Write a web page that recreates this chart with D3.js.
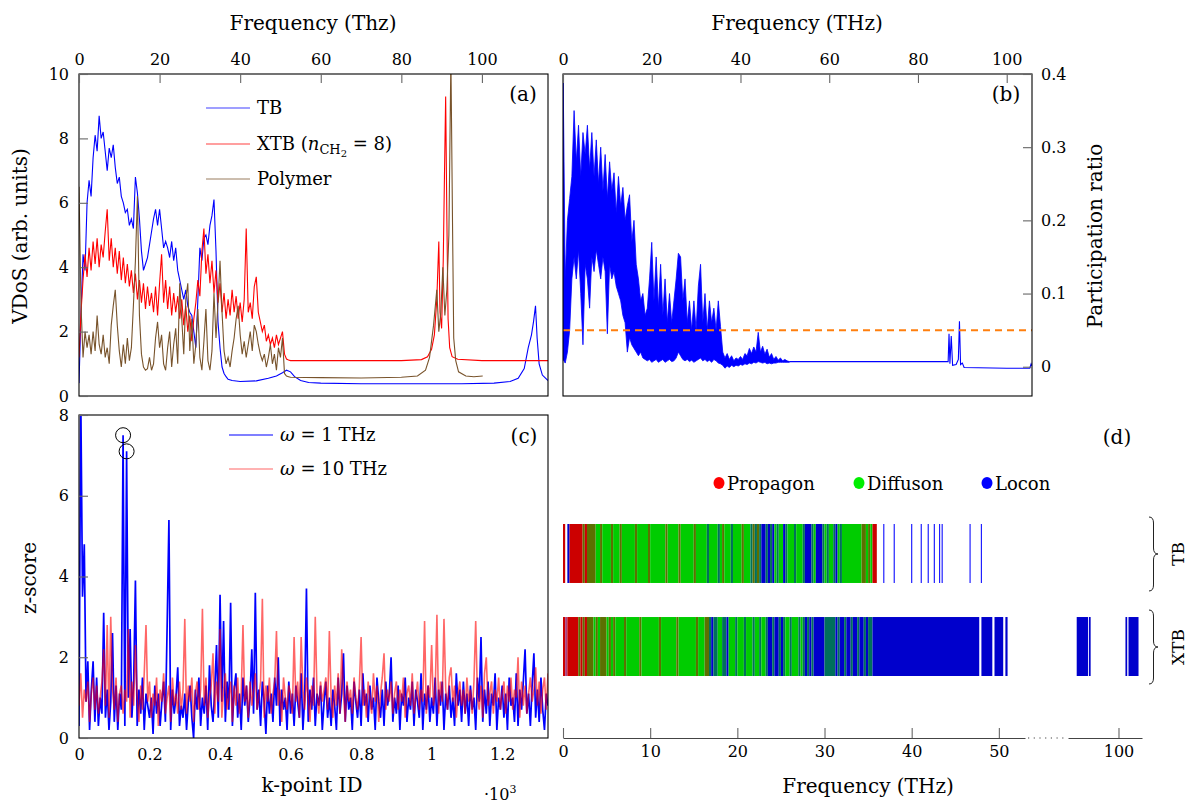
<!DOCTYPE html>
<html>
<head>
<meta charset="utf-8">
<script src="https://cdn.jsdelivr.net/npm/d3@7"></script>
<style>
  body { margin: 0; background: #fff; }
  svg text { font-family: 'DejaVu Serif', serif; fill: #000; }
</style>
</head>
<body>
<svg id="fig" width="1190" height="804"></svg>
<script>
// ---------------- data ----------------
// (a) VDoS, dense part sampled every 0.5 THz from 0, tail as [THz, value]
const vdosStep = 0.5;
const vdosTB = [
  0.4, 2.6, 4.4, 3.9, 6.0, 6.7, 6.2, 7.4, 8.1, 7.6,
  8.7, 8.0, 8.2, 7.6, 7.0, 7.7, 7.4, 7.8, 7.1, 6.6,
  6.8, 6.2, 6.0, 5.7, 5.8, 5.3, 5.5, 5.2, 6.8, 6.3,
  5.5, 4.5, 3.9, 4.1, 4.3, 4.7, 5.1, 5.5, 5.8, 5.3,
  5.8, 5.2, 4.6, 4.8, 4.6, 4.3, 4.8, 4.2, 4.6, 3.9,
  3.6, 3.3, 3.0, 3.3, 2.8, 2.6, 2.5, 2.0, 1.5, 3.0,
  4.6, 4.2, 4.9, 5.0, 4.7, 5.3, 5.6, 6.1, 4.5, 2.3,
  1.5, 0.9, 0.7
];
const vdosTBTail = [[36.5, 0.6], [37, 0.52], [38, 0.48], [40, 0.45], [44, 0.47], [47, 0.55], [49, 0.62],
  [50.5, 0.72], [51.5, 0.8], [52.5, 0.75], [53.5, 0.6], [55, 0.48], [57, 0.42], [60, 0.4], [70, 0.38],
  [85, 0.38], [95, 0.38], [103, 0.4], [107, 0.45], [109, 0.55], [110.5, 0.85], [111.5, 1.5], [112.3, 1.9],
  [112.8, 2.3], [113.3, 2.8], [113.7, 1.8], [114.2, 1.0], [115, 0.65], [116.4, 0.48]];

const vdosXTB = [
  1.2, 2.6, 3.6, 4.4, 3.7, 4.6, 3.9, 4.8, 4.1, 4.9,
  4.0, 4.7, 4.3, 5.1, 5.8, 4.2, 4.9, 4.0, 4.6, 3.8,
  4.5, 3.6, 4.3, 3.5, 4.1, 3.4, 3.9, 3.2, 3.8, 3.0,
  3.6, 2.9, 3.5, 2.7, 3.4, 2.8, 3.2, 2.6, 3.4, 2.5,
  3.5, 4.4, 2.9, 3.6, 2.7, 3.4, 2.5, 3.2, 2.6, 3.1,
  2.4, 3.0, 2.2, 2.8, 2.0, 2.5, 1.7, 2.4, 2.9, 3.6,
  3.1, 4.5, 5.2, 3.8, 4.4, 3.5, 4.2, 3.2, 3.9, 2.9,
  3.5, 2.6, 3.2, 2.4, 3.0, 2.5, 3.3, 2.6, 3.1, 2.4,
  2.9, 2.3, 3.0, 5.2, 2.6, 2.9, 2.4, 3.4, 3.7, 2.6,
  2.3, 2.0, 2.2, 1.7, 1.9, 1.6, 1.8, 1.5, 1.9, 1.6,
  1.8, 2.0, 1.3, 1.15, 1.12
];
const vdosXTBTail = [[52.5, 1.1], [60, 1.1], [80, 1.1], [85, 1.13], [86.5, 1.22], [87.5, 1.45], [88.2, 1.9],
  [88.8, 3.0], [89.3, 4.8], [89.6, 2.6], [90.0, 2.1], [90.4, 4.2], [90.7, 6.8], [91.0, 9.3], [91.3, 5.5],
  [91.6, 2.4], [92.0, 1.5], [92.6, 1.22], [94, 1.14], [100, 1.1], [116.4, 1.1]];

const vdosPoly = [
  6.5, 2.8, 1.2, 2.0, 1.5, 1.9, 1.3, 2.0, 1.4, 2.5,
  1.6, 1.3, 1.9, 1.2, 1.5, 1.0, 2.2, 2.8, 3.3, 2.2,
  1.4, 0.9, 1.6, 1.0, 1.8, 1.1, 1.5, 2.8, 4.2, 6.2,
  2.5, 1.3, 0.9, 0.8, 0.85, 1.2, 0.8, 1.0, 1.8, 2.3,
  1.5, 1.9, 1.0, 0.8, 1.5, 2.0, 0.9, 1.6, 2.1, 1.0,
  3.5, 2.4, 1.3, 3.0, 3.5, 1.4, 2.4, 1.0, 1.6, 2.7,
  1.2, 0.8, 1.7, 2.7, 1.1, 0.8, 1.4, 3.2, 1.8, 2.9,
  4.2, 2.6, 1.4, 1.0, 1.2, 0.9, 1.4, 1.8, 2.4, 2.8,
  1.9, 1.3, 1.7, 1.2, 1.6, 2.0, 1.4, 2.2, 2.0, 1.6,
  1.3, 1.1, 1.3, 0.9, 1.2, 1.6, 1.0, 1.3, 0.8, 1.5,
  1.2, 1.8, 0.7, 0.62, 0.6
];
const vdosPolyTail = [[52.5, 0.58], [60, 0.57], [70, 0.56], [80, 0.58], [84, 0.62], [86, 0.8], [87, 1.2],
  [88, 2.2], [88.8, 3.3], [89.3, 2.0], [89.8, 2.6], [90.3, 4.0], [90.8, 2.5], [91.3, 3.3], [91.8, 5.0],
  [92.3, 10.5], [92.7, 5.4], [93.0, 1.8], [93.5, 1.1], [94.2, 0.75], [96, 0.62], [98, 0.6], [100.2, 0.62]];

// (b) participation ratio: upper / lower envelope every 0.5 THz up to 51 THz, then a thin tail
const prStep = 0.5;
const prHigh = [
  0.42, 0.12, 0.20, 0.23, 0.26, 0.35, 0.28, 0.33, 0.26, 0.32,
  0.29, 0.33, 0.27, 0.32, 0.26, 0.31, 0.25, 0.30, 0.24, 0.29,
  0.23, 0.28, 0.24, 0.265, 0.21, 0.26, 0.22, 0.245, 0.20, 0.22,
  0.235, 0.17, 0.20, 0.14, 0.12, 0.09, 0.10, 0.07, 0.08, 0.12,
  0.17, 0.09, 0.15, 0.08, 0.14, 0.07, 0.12, 0.06, 0.10, 0.06,
  0.09, 0.12, 0.155, 0.15, 0.09, 0.12, 0.06, 0.09, 0.05, 0.09,
  0.05, 0.11, 0.14, 0.06, 0.10, 0.05, 0.09, 0.06, 0.08, 0.05,
  0.09, 0.055, 0.02, 0.012, 0.018, 0.01, 0.015, 0.008, 0.012, 0.01,
  0.014, 0.01, 0.018, 0.015, 0.025, 0.018, 0.027, 0.02, 0.047, 0.02,
  0.028, 0.017, 0.024, 0.013, 0.018, 0.01, 0.014, 0.009, 0.012, 0.008,
  0.01, 0.008, 0.007
];
const prLow = [
  0.01, 0.005, 0.02, 0.05, 0.12, 0.15, 0.12, 0.16, 0.10, 0.03,
  0.14, 0.12, 0.08, 0.15, 0.13, 0.16, 0.14, 0.12, 0.15, 0.13,
  0.045, 0.14, 0.12, 0.13, 0.11, 0.10, 0.09, 0.07, 0.06, 0.02,
  0.04, 0.03, 0.025, 0.02, 0.015, 0.02, 0.012, 0.01, 0.008, 0.01,
  0.006, 0.008, 0.01, 0.006, 0.008, 0.01, 0.006, 0.008, 0.01, 0.007,
  0.008, 0.012, 0.02, 0.015, 0.01, 0.008, 0.01, 0.007, 0.009, 0.006,
  0.008, 0.01, 0.012, 0.008, 0.01, 0.007, 0.009, 0.006, 0.01, 0.008,
  0.005, 0.004, 0.002, -0.002, 0.001, -0.001, 0.002, 0.0, 0.002, 0.001,
  0.003, 0.002, 0.004, 0.003, 0.005, 0.004, 0.006, 0.005, 0.007, 0.006,
  0.005, 0.006, 0.004, 0.005, 0.004, 0.005, 0.005, 0.006, 0.006, 0.006,
  0.006, 0.006, 0.006
];
const prTail = [[51, 0.007], [86.8, 0.007], [87.0, 0.045], [87.2, 0.004], [87.5, 0.042], [87.8, 0.002],
  [88.6, 0.003], [89.1, 0.01], [89.35, 0.062], [89.6, 0.003], [90.0, 0.005], [90.4, -0.001], [100, -0.002],
  [105.2, -0.002], [105.5, 0.004], [105.7, 0.001]];
const prThreshold = 0.05;

// (c) z-score per k-point, every 5 k-points from 0 to 1330
const kStep = 5;
const zOmega1 = [
  0.3, 8.5, 3.5, 4.8, 0.9, 1.9, 0.2, 1.2, 1.9, 0.4, 1.5, 0.3, 1.0, 0.6, 3.1, 0.5, 1.2, 0.2, 0.9, 2.6,
  0.4, 1.3, 0.2, 1.1, 0.7, 7.5, 0.3, 7.1, 1.0, 2.7, 0.5, 1.4, 3.9, 0.3, 1.2, 0.6, 1.5, 0.2, 1.1, 0.8,
  0.5, 1.0, 0.1, 1.3, 0.6, 1.1, 0.3, 0.9, 1.4, 0.4, 2.8, 5.4, 0.2, 1.2, 0.6, 1.0, 1.75, 0.3, 0.8, 0.5,
  1.1, 0.2, 0.9, 1.3, 0.5, 0.0, 1.2, 0.7, 1.5, 0.3, 1.0, 0.6, 1.3, 0.2, 1.8, 0.8, 0.4, 1.2, 2.3, 0.5,
  3.55, 0.9, 2.9, 0.4, 1.4, 0.7, 3.35, 0.3, 1.2, 1.6, 0.5, 1.1, 0.2, 1.5, 0.8, 1.3, 0.4, 1.0, 2.2, 0.6,
  3.6, 0.7, 1.2, 0.3, 1.4, 0.9, 0.1, 1.3, 0.6, 1.1, 0.4, 1.5, 0.8, 2.0, 0.3, 1.2, 0.7, 1.0, 0.2, 1.4,
  0.6, 1.1, 0.3, 1.3, 0.9, 0.5, 1.6, 0.2, 1.0, 3.7, 0.4, 1.2, 0.7, 1.5, 0.3, 1.1, 0.8, 1.3, 0.2, 0.9,
  1.4, 0.5, 1.0, 0.3, 1.2, 0.8, 0.2, 1.5, 0.6, 1.1, 2.1, 0.4, 1.3, 0.7, 1.0, 0.2, 1.4, 0.9, 0.5, 1.2,
  0.3, 1.6, 0.8, 1.1, 0.4, 1.3, 0.7, 1.0, 0.2, 1.5, 0.9, 0.5, 1.2, 0.3, 1.4, 0.8, 1.1, 2.0, 0.4, 1.0,
  0.6, 1.3, 0.2, 1.1, 0.8, 1.5, 0.4, 1.0, 0.7, 1.4, 0.3, 1.2, 0.9, 0.5, 1.6, 0.2, 1.1, 0.7, 1.3, 0.4,
  1.0, 0.6, 1.5, 0.3, 1.2, 0.8, 1.4, 0.2, 1.1, 0.7, 1.3, 0.5, 1.0, 0.3, 1.6, 0.8, 1.2, 0.4, 1.4, 0.6,
  1.1, 0.3, 1.3, 0.7, 1.0, 0.2, 1.5, 0.9, 2.5, 0.4, 1.2, 0.6, 1.4, 0.3, 1.1, 0.8, 1.6, 0.2, 1.0, 0.7,
  1.3, 0.5, 1.1, 0.2, 1.5, 0.8, 1.0, 0.4, 1.6, 0.3, 1.2, 0.7, 1.4, 2.2, 0.6, 1.1, 0.3, 1.3, 2.1, 0.5,
  1.2, 0.4, 1.5, 0.7, 0.2, 1.1, 0.8
];
const zOmega10 = [
  0.8, 1.6, 0.5, 1.2, 0.9, 1.4, 0.4, 1.1, 1.5, 0.7, 1.3, 0.6, 1.0, 1.4, 2.2, 0.8, 2.8, 0.5, 3.0, 1.2,
  0.7, 1.5, 0.4, 1.1, 1.3, 0.6, 1.2, 0.9, 2.7, 0.5, 1.4, 0.8, 2.3, 1.0, 0.4, 1.3, 0.7, 1.6, 2.8, 0.9,
  1.4, 0.5, 1.1, 0.8, 1.5, 0.3, 1.2, 0.9, 1.6, 0.6, 1.0, 1.3, 0.4, 1.5, 0.8, 1.1, 0.6, 1.4, 0.7, 1.2,
  2.95, 0.6, 1.3, 0.9, 1.5, 0.4, 1.1, 1.4, 0.7, 1.2, 3.2, 0.8, 1.5, 0.5, 1.0, 1.3, 2.1, 0.6, 1.4, 0.9,
  2.7, 0.5, 1.2, 1.6, 0.7, 1.0, 1.4, 0.4, 1.3, 0.8, 1.5, 0.6, 1.1, 2.8, 0.9, 1.3, 0.5, 1.4, 0.8, 1.2,
  1.6, 0.7, 1.0, 1.4, 3.45, 0.5, 1.3, 0.9, 1.5, 0.6, 1.1, 1.4, 2.65, 0.8, 1.2, 0.4, 1.5, 1.0, 0.7, 1.3,
  1.1, 0.6, 2.5, 0.9, 1.4, 0.5, 2.5, 1.2, 0.7, 1.5, 1.0, 0.4, 1.3, 0.8, 3.0, 1.1, 0.6, 1.4, 0.9, 1.2,
  1.5, 0.7, 2.65, 1.0, 0.5, 1.3, 0.8, 1.6, 0.6, 2.2, 1.1, 0.4, 1.4, 0.9, 1.2, 0.6, 1.5, 1.0, 0.7, 1.3,
  2.5, 0.8, 1.2, 0.5, 1.4, 1.0, 0.6, 1.6, 0.9, 1.3, 0.4, 1.1, 1.5, 2.1, 0.7, 1.2, 0.9, 1.4, 0.6, 1.1,
  1.4, 0.7, 1.2, 0.9, 1.5, 0.5, 1.1, 1.3, 0.8, 1.6, 0.6, 1.0, 1.4, 0.7, 1.2, 0.9, 2.9, 0.6, 1.3, 1.0,
  2.3, 0.8, 1.1, 3.05, 0.6, 1.4, 0.9, 2.95, 1.2, 0.7, 1.5, 1.75, 0.9, 1.3, 0.5, 1.1, 1.4, 0.8, 1.2, 0.6,
  1.5, 0.9, 1.2, 0.6, 1.4, 2.9, 1.0, 0.7, 1.3, 0.5, 1.6, 2.0, 0.8, 1.1, 1.4, 0.6, 1.2, 0.9, 1.5, 0.7,
  1.1, 1.4, 0.6, 1.3, 0.9, 1.5, 0.7, 1.2, 1.0, 2.0, 0.5, 1.4, 0.8, 1.3, 0.6, 1.1, 1.5, 0.9, 1.2, 1.75,
  0.8, 1.4, 0.6, 1.2, 1.5, 0.7, 1.6
];
const zMarked = [[125, 7.5], [135, 7.1]];

// (d) mode classification, one code per 0.25 THz bin
// P propagon, D diffuson, L locon, o = P/D mixed bin, t = D/L mixed bin, q = P/L mixed bin, ' ' = no mode
const modeBin = 0.25;
const modeRows = ['TB', 'XTB'];
const modesTB = 'P L' + 'PPPPPP' + 'oPoooo' +
  'DDoDDDDoDD' + 'DoDDDDDDoD' + 'DDDDoDDDDD' + 'DDoDDDDDoD' + 'DDDDDoDDDD' + 'D' +
  'tDDDDt' + 'DoDDDtDDDDoDDD' + 'tototL' + 'LtLtL' + 'DtDDLtDDDtDDDt' + 'LLL' + 'tDLL' +
  'LtDtDDtLDtDD' + 'DDDDDDD' + 'ooDoD' + 'PP';
const modesXTB = 'Pq' + 'PPPP' + 'PoPoPoo' + 'oDoDoooDoDo' +
  'DDDDoDDDDD' + 'DoDDDDDDDD' + 'oDDDDDDDoD' + 'DDDDDDDoDD' + 'D' +
  'ootLttD' + 'DttLD' + 'DDtDDDtDDDtDDtDDt' + 'LLtLLtLt' + 'DDtDDDtD' + 'tLtLtL' + 'LLLL' + 'ttttt' +
  'LtLLtLLtLLtLLtL' + 'tt' +
  'LLLLLLLLLL' + 'LLLLLLLLLL' + 'LLLLLLLLLL' + 'LLLLLLLLLL' + 'LLLLLLLLL' +
  ' ' + 'LLLLL' + ' ' + 'LLLL' + ' ' + 'L';
const tbLoneLocons = [36.8, 38.0, 40.0, 41.1, 41.9, 42.6, 43.2, 43.5, 46.7, 48.0];
const xtbHighLocons = [[95.2, 96.5], [96.6, 96.8], [100.8, 101.0], [101.15, 102.3]];
const modeLegend = [['P', 'Propagon'], ['D', 'Diffuson'], ['L', 'Locon']];

// ---------------- drawing ----------------
const svg = d3.select('#fig');
const tickCol = '#666';

function frame(x0, y0, x1, y1) {
  svg.append('rect')
    .attr('x', x0).attr('y', y0).attr('width', x1 - x0).attr('height', y1 - y0)
    .attr('fill', 'none').attr('stroke', '#000').attr('stroke-width', 1.1);
}

function tidyAxis(g, keepDomain) {
  if (!keepDomain) g.select('.domain').remove();
  g.attr('font-size', 16).attr('font-family', null);
  g.selectAll('.tick line').attr('stroke', tickCol).attr('stroke-width', 1.1);
}

function clip(id, x0, y0, x1, y1) {
  svg.append('clipPath').attr('id', id)
    .append('rect').attr('x', x0).attr('y', y0).attr('width', x1 - x0).attr('height', y1 - y0);
  return svg.append('g').attr('clip-path', `url(#${id})`);
}

function denseWithTail(dense, step, tail) {
  return dense.map((v, i) => [i * step, v]).concat(tail);
}

// ---- panel (a) ----
const A = { x0: 79, x1: 548, y0: 74, y1: 396 };
const xa = d3.scaleLinear().domain([0, 116.4]).range([A.x0, A.x1]);
const ya = d3.scaleLinear().domain([0, 10]).range([A.y1, A.y0]);
const lineA = d3.line().x(d => xa(d[0])).y(d => ya(d[1]));
const gA = clip('clipA', A.x0, A.y0, A.x1, A.y1);

const vdosSeries = [
  { name: 'TB', color: '#0000ff', pts: denseWithTail(vdosTB, vdosStep, vdosTBTail) },
  { name: 'XTB', color: '#ff0000', pts: denseWithTail(vdosXTB, vdosStep, vdosXTBTail) },
  { name: 'Polymer', color: '#78532b', pts: denseWithTail(vdosPoly, vdosStep, vdosPolyTail) }
];
vdosSeries.forEach(s => {
  gA.append('path').datum(s.pts).attr('d', lineA)
    .attr('fill', 'none').attr('stroke', s.color).attr('stroke-width', 1.1);
});
frame(A.x0, A.y0, A.x1, A.y1);

tidyAxis(svg.append('g').attr('transform', `translate(0,${A.y0})`)
  .call(d3.axisTop(xa).tickValues([0, 20, 40, 60, 80, 100]).tickSize(-9).tickPadding(9)));
tidyAxis(svg.append('g').attr('transform', `translate(${A.x0},0)`)
  .call(d3.axisLeft(ya).tickValues([0, 2, 4, 6, 8, 10]).tickSize(-9).tickPadding(10)));

svg.append('text').attr('x', 313).attr('y', 30).attr('text-anchor', 'middle')
  .attr('font-size', 20).text('Frequency (Thz)');
svg.append('text').attr('transform', 'translate(27,236) rotate(-90)').attr('text-anchor', 'middle')
  .attr('font-size', 20).text('VDoS (arb. units)');
svg.append('text').attr('x', 523).attr('y', 101).attr('text-anchor', 'middle')
  .attr('font-size', 20).text('(a)');

// legend (a)
const legA = svg.append('g').attr('font-size', 18);
const legAY = [108, 144, 179];
vdosSeries.forEach((s, i) => {
  legA.append('line').attr('x1', 206).attr('x2', 250).attr('y1', legAY[i]).attr('y2', legAY[i])
    .attr('stroke', s.color).attr('stroke-width', 1).attr('opacity', 0.75);
});
legA.append('text').attr('x', 257).attr('y', legAY[0] + 6).text('TB');
const xtbLabel = legA.append('text').attr('x', 257).attr('y', legAY[1] + 6);
xtbLabel.append('tspan').text('XTB (');
xtbLabel.append('tspan').attr('font-style', 'italic').text('n');
xtbLabel.append('tspan').attr('font-size', 13).attr('dy', 4).text('CH');
xtbLabel.append('tspan').attr('font-size', 10).attr('dy', 3).text('2');
xtbLabel.append('tspan').attr('dy', -7).text(' = 8)');
legA.append('text').attr('x', 257).attr('y', legAY[2] + 6).text('Polymer');

// ---- panel (b) ----
const B = { x0: 563, x1: 1032, y0: 74, y1: 396 };
const xb = d3.scaleLinear().domain([0, 105.7]).range([B.x0, B.x1]);
const yb = d3.scaleLinear().domain([-0.04, 0.4]).range([B.y1, B.y0]);
const gB = clip('clipB', B.x0, B.y0, B.x1, B.y1);

const prBand = prHigh.map((h, i) => ({ f: i * prStep, hi: h, lo: prLow[i] }));
gB.append('path').datum(prBand)
  .attr('d', d3.area().x(d => xb(d.f)).y0(d => yb(d.lo)).y1(d => yb(d.hi)))
  .attr('fill', '#0000ff').attr('stroke', '#0000ff').attr('stroke-width', 0.8);
gB.append('path').datum(prTail)
  .attr('d', d3.line().x(d => xb(d[0])).y(d => yb(d[1])))
  .attr('fill', 'none').attr('stroke', '#0000ff').attr('stroke-width', 1.1);
gB.append('line')
  .attr('x1', B.x0).attr('x2', B.x1).attr('y1', yb(prThreshold)).attr('y2', yb(prThreshold))
  .attr('stroke', '#ff7f0e').attr('stroke-width', 2).attr('stroke-dasharray', '7,5');
frame(B.x0, B.y0, B.x1, B.y1);

tidyAxis(svg.append('g').attr('transform', `translate(0,${B.y0})`)
  .call(d3.axisTop(xb).tickValues([0, 20, 40, 60, 80, 100]).tickSize(-9).tickPadding(9)));
tidyAxis(svg.append('g').attr('transform', `translate(${B.x1},0)`)
  .call(d3.axisRight(yb).tickValues([0, 0.1, 0.2, 0.3, 0.4])
    .tickFormat(d => d === 0 ? '0' : d).tickSize(-9).tickPadding(9)));

svg.append('text').attr('x', 797).attr('y', 30).attr('text-anchor', 'middle')
  .attr('font-size', 20).text('Frequency (THz)');
svg.append('text').attr('transform', 'translate(1095,236) rotate(-90)').attr('text-anchor', 'middle')
  .attr('dominant-baseline', 'central').attr('font-size', 20).text('Participation ratio');
svg.append('text').attr('x', 1006).attr('y', 101).attr('text-anchor', 'middle')
  .attr('font-size', 20).text('(b)');

// ---- panel (c) ----
const C = { x0: 79, x1: 548, y0: 415, y1: 738 };
const xc = d3.scaleLinear().domain([0, 1330]).range([C.x0, C.x1]);
const yc = d3.scaleLinear().domain([0, 8]).range([C.y1, C.y0]);
const lineC = d3.line().x((d, i) => xc(i * kStep)).y(d => yc(d));
const gC = clip('clipC', C.x0, C.y0, C.x1, C.y1);

gC.append('path').datum(zOmega1).attr('d', lineC)
  .attr('fill', 'none').attr('stroke', '#0000ff').attr('stroke-width', 1.7);
gC.append('path').datum(zOmega10).attr('d', lineC)
  .attr('fill', 'none').attr('stroke', '#ff0000').attr('stroke-width', 1.6).attr('stroke-opacity', 0.6);
gC.selectAll('circle.mark').data(zMarked).join('circle').attr('class', 'mark')
  .attr('cx', d => xc(d[0])).attr('cy', d => yc(d[1])).attr('r', 7.5)
  .attr('fill', 'none').attr('stroke', '#000').attr('stroke-width', 1);
frame(C.x0, C.y0, C.x1, C.y1);

tidyAxis(svg.append('g').attr('transform', `translate(${C.x0},0)`)
  .call(d3.axisLeft(yc).tickValues([0, 2, 4, 6, 8]).tickSize(-9).tickPadding(10)));
tidyAxis(svg.append('g').attr('transform', `translate(0,${C.y1})`)
  .call(d3.axisBottom(xc).tickValues([0, 200, 400, 600, 800, 1000, 1200])
    .tickFormat(d => d / 1000).tickSize(0).tickPadding(11)));

svg.append('text').attr('x', 312).attr('y', 792).attr('text-anchor', 'middle')
  .attr('font-size', 20).text('k-point ID');
const mult = svg.append('text').attr('x', 484).attr('y', 800).attr('font-size', 16);
mult.append('tspan').text('·10');
mult.append('tspan').attr('font-size', 11).attr('dy', -7).text('3');
svg.append('text').attr('transform', 'translate(36,578) rotate(-90)').attr('text-anchor', 'middle')
  .attr('font-size', 20).text('z-score');
svg.append('text').attr('x', 524).attr('y', 443).attr('text-anchor', 'middle')
  .attr('font-size', 20).text('(c)');

const legC = svg.append('g').attr('font-size', 18);
[['1', '#0000ff', 1, 435], ['10', '#ff0000', 0.6, 469]].forEach(([w, col, op, y]) => {
  legC.append('line').attr('x1', 229).attr('x2', 273).attr('y1', y).attr('y2', y)
    .attr('stroke', col).attr('stroke-width', 1.2).attr('stroke-opacity', op);
  const t = legC.append('text').attr('x', 280).attr('y', y + 6);
  t.append('tspan').attr('font-style', 'italic').text('ω');
  t.append('tspan').text(` = ${w} THz`);
});

// ---- panel (d) ----
const axisDY = 738;
const xd1 = d3.scaleLinear().domain([0, 53]).range([563, 1025]);
const xd2 = d3.scaleLinear().domain([94.2, 102.7]).range([1068, 1142]);
const xd = f => (f < 70 ? xd1(f) : xd2(f));
const yd = d3.scaleBand().domain(modeRows).range([524, 676]).paddingInner(0.366);

const baseCol = { P: '#cc0000', D: '#00cc00', L: '#0000cc' };
const modeColor = {
  P: baseCol.P, D: baseCol.D, L: baseCol.L,
  o: d3.interpolateRgb(baseCol.P, baseCol.D)(0.55),
  t: d3.interpolateRgb(baseCol.D, baseCol.L)(0.45),
  q: d3.interpolateRgb(baseCol.P, '#8080ff')(0.5)
};

function runs(codes) {
  const out = [];
  for (let i = 0; i < codes.length; i++) {
    const c = codes[i];
    if (out.length && out[out.length - 1].code === c) out[out.length - 1].end = (i + 1) * modeBin;
    else out.push({ code: c, start: i * modeBin, end: (i + 1) * modeBin });
  }
  return out.filter(r => r.code !== ' ');
}

const gD = svg.append('g');
[['TB', modesTB], ['XTB', modesXTB]].forEach(([row, codes]) => {
  gD.selectAll(`rect.m${row}`).data(runs(codes)).join('rect').attr('class', `m${row}`)
    .attr('x', d => xd(d.start)).attr('width', d => xd(d.end) - xd(d.start))
    .attr('y', yd(row)).attr('height', yd.bandwidth())
    .attr('fill', d => modeColor[d.code]);
});
gD.selectAll('line.lone').data(tbLoneLocons).join('line').attr('class', 'lone')
  .attr('x1', d => xd(d)).attr('x2', d => xd(d))
  .attr('y1', yd('TB')).attr('y2', yd('TB') + yd.bandwidth())
  .attr('stroke', '#2020ff').attr('stroke-width', 1.2);
gD.selectAll('rect.high').data(xtbHighLocons).join('rect').attr('class', 'high')
  .attr('x', d => xd(d[0])).attr('width', d => xd(d[1]) - xd(d[0]))
  .attr('y', yd('XTB')).attr('height', yd.bandwidth()).attr('fill', baseCol.L);

// legend (d)
const legDX = [719, 859, 987];
const legD = svg.append('g').attr('font-size', 18);
modeLegend.forEach(([c, label], i) => {
  legD.append('ellipse').attr('cx', legDX[i]).attr('cy', 483).attr('rx', 5.5).attr('ry', 6)
    .attr('fill', { P: '#ff0000', D: '#00ee00', L: '#0000ff' }[c]);
  legD.append('text').attr('x', legDX[i] + 8).attr('y', 490).text(label);
});

// braces and row labels
function bracePath(x, y0, y1, w) {
  const m = (y0 + y1) / 2, xm = x + w * 0.5, r = 6;
  return `M${x},${y0} Q${xm},${y0} ${xm},${y0 + r} L${xm},${m - r} Q${xm},${m} ${x + w},${m}` +
    ` Q${xm},${m} ${xm},${m + r} L${xm},${y1 - r} Q${xm},${y1} ${x},${y1}`;
}
modeRows.forEach(row => {
  const top = yd(row) - 7, bot = yd(row) + yd.bandwidth() + 8;
  svg.append('path').attr('d', bracePath(1149, top, bot, 9))
    .attr('fill', 'none').attr('stroke', '#222').attr('stroke-width', 1);
  svg.append('text')
    .attr('transform', `translate(1178,${(top + bot) / 2}) rotate(-90)`)
    .attr('text-anchor', 'middle').attr('dominant-baseline', 'central')
    .attr('font-size', 17).text(row);
});

// broken frequency axis
const axD1 = svg.append('g').attr('transform', `translate(0,${axisDY})`)
  .call(d3.axisBottom(xd1).tickValues([0, 10, 20, 30, 40, 50]).tickSize(-10).tickSizeOuter(0).tickPadding(8));
const axD2 = svg.append('g').attr('transform', `translate(0,${axisDY})`)
  .call(d3.axisBottom(xd2).tickValues([100]).tickSize(-10).tickSizeOuter(0).tickPadding(8));
[axD1, axD2].forEach(g => {
  tidyAxis(g, true);
  g.select('.domain').attr('stroke', '#444').attr('stroke-width', 1.2);
});
svg.append('line').attr('x1', 1028).attr('x2', 1065).attr('y1', axisDY).attr('y2', axisDY)
  .attr('stroke', '#444').attr('stroke-width', 1.2).attr('stroke-dasharray', '1.2,4.5');

svg.append('text').attr('x', 868).attr('y', 793).attr('text-anchor', 'middle')
  .attr('font-size', 20).text('Frequency (THz)');
svg.append('text').attr('x', 1117).attr('y', 444).attr('text-anchor', 'middle')
  .attr('font-size', 20).text('(d)');
</script>
</body>
</html>
